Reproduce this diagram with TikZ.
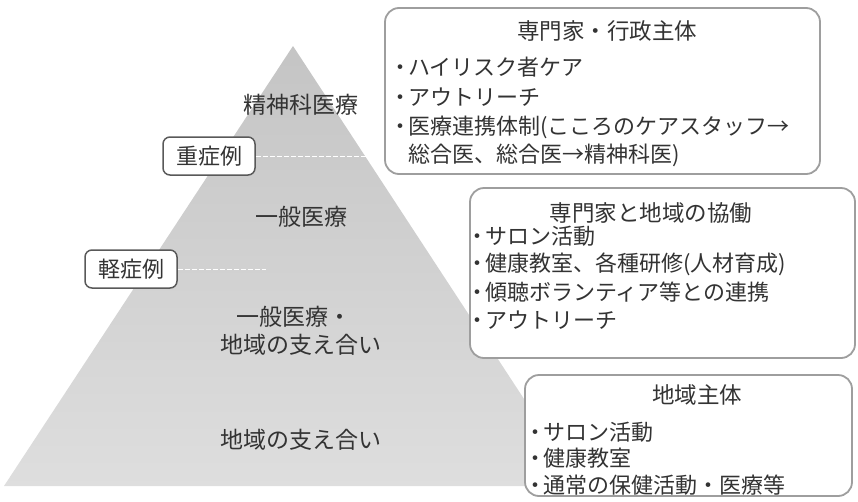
\documentclass[tikz,border=0pt]{standalone}
\usepackage{fontspec}
\setmainfont{Noto Sans CJK JP}
\newcommand\bul{\makebox[16pt][c]{・}}
\begin{document}
\begin{tikzpicture}[x=1pt,y=-1pt,
  txt/.style={inner sep=0pt, text=black!80, font=\fontsize{22}{26}\selectfont},
  ttl/.style={txt, font=\fontsize{22.5}{26}\selectfont},
  plab/.style={txt, font=\fontsize{23}{27}\selectfont},
  item/.style={txt, anchor=west},
  bigbox/.style={draw=black!38, line width=1.8pt, rounded corners=14pt, fill=white, inner sep=0pt},
  tagbox/.style={draw=black!65, line width=1.5pt, rounded corners=7pt, fill=white,
    minimum width=92pt, minimum height=38pt, inner sep=0pt, text=black!80, font=\fontsize{22}{26}\selectfont},
  guide/.style={draw=white, dash pattern=on 5pt off 2pt, line width=1pt}]
\useasboundingbox (0,0) rectangle (858,501);
% pyramid
\coordinate (apex) at (293,46);
\coordinate (bl) at (4,486);
\coordinate (br) at (581,486);
\shade[top color=black!23, middle color=black!26, bottom color=black!13] (apex) -- (br) -- (bl) -- cycle;
% pyramid labels
\node[plab] (p1) at (301,105) {精神科医療};
\node[plab] (p2) at (301,217) {一般医療};
\node[plab] (p3) at (294,317) {一般医療・};
\node[plab] (p4) at (301,345) {地域の支え合い};
\node[plab] (p5) at (301,440) {地域の支え合い};
% severity tags
\node[tagbox] (tag1) at (209,156) {重症例};
\node[tagbox] (tag2) at (131,269) {軽症例};
\coordinate (g1) at (372,156);
\coordinate (g2) at (266,269);
\draw[guide] (tag1.east) -- (g1);
\draw[guide] (tag2.east) -- (g2);
% box 1
\node[bigbox, minimum width=435pt, minimum height=166pt] (b1) at (602.5,91) {};
\node[ttl] (b1t) at (607,31) {専門家・行政主体};
\node[item] (b1a) at (392,67) {\bul ハイリスク者ケア};
\node[item] (b1b) at (392,97) {\bul アウトリーチ};
\node[item] (b1c) at (392,127) {\bul 医療連携体制(こころのケアスタッフ→};
\node[item] (b1d) at (408,155) {総合医、総合医→精神科医)};
% box 2
\node[bigbox, minimum width=385pt, minimum height=170pt] (b2) at (662.5,273) {};
\node[ttl] (b2t) at (651,213) {専門家と地域の協働};
\node[item] (b2a) at (469,236) {\bul サロン活動};
\node[item] (b2b) at (469,264) {\bul 健康教室、各種研修(人材育成)};
\node[item] (b2c) at (469,292) {\bul 傾聴ボランティア等との連携};
\node[item] (b2d) at (469,320) {\bul アウトリーチ};
% box 3
\node[bigbox, minimum width=327pt, minimum height=121pt] (b3) at (688.5,435.5) {};
\node[ttl] (b3t) at (697,395) {地域主体};
\node[item] (b3a) at (527,432) {\bul サロン活動};
\node[item] (b3b) at (527,458) {\bul 健康教室};
\node[item] (b3c) at (527,485) {\bul 通常の保健活動・医療等};
\end{tikzpicture}
\end{document}
